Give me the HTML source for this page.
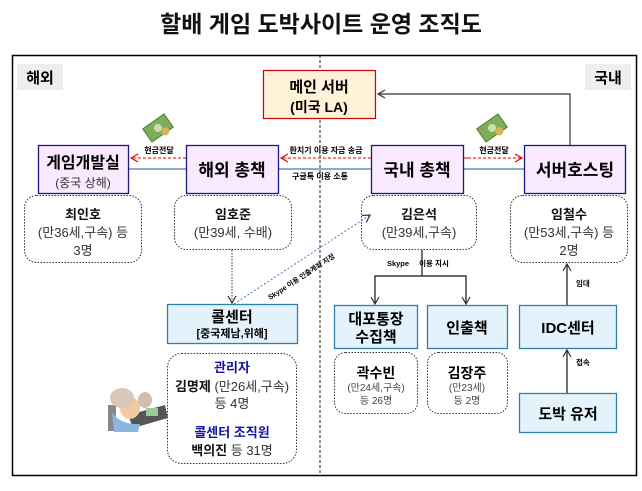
<!DOCTYPE html>
<html><head><meta charset="utf-8"><style>
body{margin:0;background:#fff;}
svg text{font-family:"Liberation Sans","Noto Sans CJK KR",sans-serif;}
</style></head><body>
<svg width="642" height="486" viewBox="0 0 642 486" xmlns="http://www.w3.org/2000/svg">
<defs>
<marker id="ak" markerWidth="10" markerHeight="10" refX="8" refY="5" orient="auto" markerUnits="userSpaceOnUse"><path d="M1,1 L8,5 L1,9" fill="none" stroke="#333" stroke-width="1.2"/></marker>
<marker id="ar" markerWidth="10" markerHeight="10" refX="8" refY="5" orient="auto" markerUnits="userSpaceOnUse"><path d="M1,1 L8,5 L1,9" fill="none" stroke="#e00" stroke-width="1.2"/></marker>
</defs>
<text x="321" y="32" text-anchor="middle" font-size="23" font-weight="bold" fill="#111">할배 게임 도박사이트 운영 조직도</text>
<rect x="12.5" y="55.5" width="624" height="420" fill="none" stroke="#000" stroke-width="1.5"/>
<line x1="320" y1="55" x2="320" y2="475" stroke="#222" stroke-dasharray="3,2"/>
<rect x="17" y="64" width="46" height="26" fill="#eee"/>
<text x="40" y="83" text-anchor="middle" font-size="15" font-weight="bold">해외</text>
<rect x="585" y="64" width="46" height="26" fill="#eee"/>
<text x="608" y="83" text-anchor="middle" font-size="15" font-weight="bold">국내</text>

<rect x="263.5" y="70.5" width="112" height="48" fill="#fff2d9" stroke="#c00" stroke-width="1.2"/>
<text x="319" y="92" text-anchor="middle" font-size="15" font-weight="bold">메인 서버</text>
<text x="319" y="112" text-anchor="middle" font-size="14" font-weight="bold">(미국 LA)</text>
<polyline points="570,145 570,94 378,94" fill="none" stroke="#333" stroke-width="1.2" marker-end="url(#ak)"/>

<line x1="129" y1="169" x2="186" y2="169" stroke="#4a78a8" stroke-width="1.2"/>
<line x1="279" y1="169" x2="371" y2="169" stroke="#4a78a8" stroke-width="1.2"/>
<line x1="463" y1="169" x2="524" y2="169" stroke="#4a78a8" stroke-width="1.2"/>
<line x1="186" y1="158" x2="131" y2="158" stroke="#e00" stroke-dasharray="3,2" marker-end="url(#ar)"/>
<line x1="371" y1="158" x2="281" y2="158" stroke="#e00" stroke-dasharray="3,2" marker-end="url(#ar)"/>
<line x1="463" y1="158" x2="522" y2="158" stroke="#e00" stroke-dasharray="3,2" marker-end="url(#ar)"/>
<line x1="463" y1="158" x2="468" y2="158" stroke="#e00"/>
<text x="159" y="153" text-anchor="middle" font-size="8" font-weight="bold">현금전달</text>
<text x="326" y="153" text-anchor="middle" font-size="8" font-weight="bold">환치기 이용 자금 송금</text>
<text x="320" y="179" text-anchor="middle" font-size="8" font-weight="bold">구글톡 이용 소통</text>
<text x="494" y="153" text-anchor="middle" font-size="8" font-weight="bold">현금전달</text>
<g transform="translate(158,128) rotate(-35)"><rect x="-13" y="-8" width="26" height="16" fill="#7fae5a" stroke="#4d7a34"/><circle cx="0" cy="0" r="4" fill="#c8e0a8"/><circle cx="4" cy="7" r="4" fill="#d9b45a"/></g>
<g transform="translate(492,128) rotate(-35)"><rect x="-13" y="-8" width="26" height="16" fill="#7fae5a" stroke="#4d7a34"/><circle cx="0" cy="0" r="4" fill="#c8e0a8"/><circle cx="4" cy="7" r="4" fill="#d9b45a"/></g>

<g fill="#f9eaff" stroke="#1a1a80" stroke-width="1.3">
<rect x="38.5" y="145.5" width="90" height="48"/>
<rect x="186.5" y="145.5" width="92" height="48"/>
<rect x="371.5" y="145.5" width="92" height="48"/>
<rect x="524.5" y="145.5" width="101" height="48"/>
</g>
<text x="83" y="168" text-anchor="middle" font-size="16" font-weight="bold">게임개발실</text>
<text x="83" y="187" text-anchor="middle" font-size="12" fill="#333">(중국 상해)</text>
<text x="232" y="176" text-anchor="middle" font-size="17" font-weight="bold">해외 총책</text>
<text x="417" y="176" text-anchor="middle" font-size="17" font-weight="bold">국내 총책</text>
<text x="575" y="176" text-anchor="middle" font-size="17" font-weight="bold">서버호스팅</text>

<g fill="#fff" stroke="#333" stroke-dasharray="1.5,1.5">
<rect x="24.5" y="195.5" width="117" height="67" rx="12"/>
<rect x="174.5" y="195.5" width="117" height="54" rx="12"/>
<rect x="361.5" y="195.5" width="115" height="54" rx="12"/>
<rect x="510.5" y="195.5" width="117" height="67" rx="12"/>
</g>
<g font-size="13" text-anchor="middle" fill="#333">
<text x="83" y="219" font-weight="bold" fill="#111">최인호</text><text x="83" y="237">(만36세,구속) 등</text><text x="83" y="255">3명</text>
<text x="233" y="219" font-weight="bold" fill="#111">임호준</text><text x="233" y="237">(만39세, 수배)</text>
<text x="419" y="219" font-weight="bold" fill="#111">김은석</text><text x="419" y="237">(만39세,구속)</text>
<text x="569" y="219" font-weight="bold" fill="#111">임철수</text><text x="569" y="237">(만53세,구속) 등</text><text x="569" y="255">2명</text>
</g>

<line x1="232" y1="250" x2="232" y2="303" stroke="#333" stroke-dasharray="1.5,1.5" marker-end="url(#ak)"/>
<line x1="234" y1="304" x2="370" y2="215" stroke="#4a78c8" stroke-dasharray="2,2" marker-end="url(#ak)"/>
<text x="0" y="0" font-size="7" font-weight="bold" transform="translate(270,300) rotate(-33)">Skype 이용 인출계좌 지정</text>

<polyline points="422,250 422,276" fill="none" stroke="#111" stroke-width="1.2"/>
<polyline points="375,304 375,276 466,276 466,304" fill="none" stroke="#111" stroke-width="1.2"/>
<line x1="375" y1="296" x2="375" y2="304" stroke="#111" marker-end="url(#ak)"/>
<line x1="466" y1="296" x2="466" y2="304" stroke="#111" marker-end="url(#ak)"/>
<text x="398" y="266" text-anchor="middle" font-size="7.5" font-weight="bold">Skype</text>
<text x="434" y="266" text-anchor="middle" font-size="7.5" font-weight="bold">이용 지시</text>

<line x1="567" y1="305" x2="567" y2="264" stroke="#111" stroke-width="1.2" marker-end="url(#ak)"/>
<text x="576" y="286" font-size="7.5" font-weight="bold">임대</text>
<line x1="567" y1="393" x2="567" y2="350" stroke="#111" stroke-width="1.2" marker-end="url(#ak)"/>
<text x="576" y="365" font-size="7.5" font-weight="bold">접속</text>

<g fill="#e4f3fb" stroke="#2f7fa8" stroke-width="1.3">
<rect x="167.5" y="304.5" width="130" height="39"/>
<rect x="334.5" y="305.5" width="83" height="43"/>
<rect x="427.5" y="305.5" width="80" height="43"/>
<rect x="519.5" y="305.5" width="97" height="43"/>
<rect x="519.5" y="393.5" width="97" height="39"/>
</g>
<text x="232" y="322" text-anchor="middle" font-size="15" font-weight="bold">콜센터</text>
<text x="232" y="337" text-anchor="middle" font-size="11" font-weight="bold">[중국제남,위해]</text>
<text x="376" y="324" text-anchor="middle" font-size="15" font-weight="bold">대포통장</text>
<text x="376" y="342" text-anchor="middle" font-size="15" font-weight="bold">수집책</text>
<text x="467" y="333" text-anchor="middle" font-size="15" font-weight="bold">인출책</text>
<text x="568" y="333" text-anchor="middle" font-size="15" font-weight="bold">IDC센터</text>
<text x="568" y="419" text-anchor="middle" font-size="15" font-weight="bold">도박 유저</text>

<g fill="#fff" stroke="#333" stroke-dasharray="1.5,1.5">
<rect x="167.5" y="353.5" width="129" height="110" rx="14"/>
<rect x="334.5" y="352.5" width="83" height="61" rx="11"/>
<rect x="427.5" y="352.5" width="80" height="61" rx="11"/>
</g>
<g text-anchor="middle">
<text x="232" y="372" font-size="13" font-weight="bold" fill="#1414a0">관리자</text>
<text x="232" y="391" font-size="13" fill="#333"><tspan font-weight="bold" fill="#111">김명제</tspan> (만26세,구속)</text>
<text x="232" y="408" font-size="13" fill="#333">등 4명</text>
<text x="232" y="437" font-size="13" font-weight="bold" fill="#1414a0">콜센터 조직원</text>
<text x="232" y="455" font-size="13" fill="#333"><tspan font-weight="bold" fill="#111">백의진</tspan> 등 31명</text>
<text x="376" y="378" font-size="14" font-weight="bold">곽수빈</text>
<text x="376" y="391" font-size="10" fill="#444">(만24세,구속)</text>
<text x="376" y="404" font-size="10" fill="#444">등 26명</text>
<text x="467" y="378" font-size="14" font-weight="bold">김장주</text>
<text x="467" y="391" font-size="10" fill="#444">(만23세)</text>
<text x="467" y="404" font-size="10" fill="#444">등 2명</text>
</g>
<g>
<rect x="108" y="405" width="8" height="26" fill="#888"/>
<polygon points="128,415 165,405 168,418 133,428" fill="#555"/>
<ellipse cx="130" cy="408" rx="10" ry="11" fill="#f2c9a0"/>
<ellipse cx="122" cy="398" rx="12" ry="10" fill="#d9c8b8"/>
<path d="M112,412 Q120,425 140,424 L138,432 L114,432Z" fill="#8ab6e0"/>
<ellipse cx="145" cy="400" rx="7" ry="8" fill="#cfc0b0"/>
<rect x="146" y="408" width="12" height="8" fill="#9c9"/>
</g>
</svg>
</body></html>
